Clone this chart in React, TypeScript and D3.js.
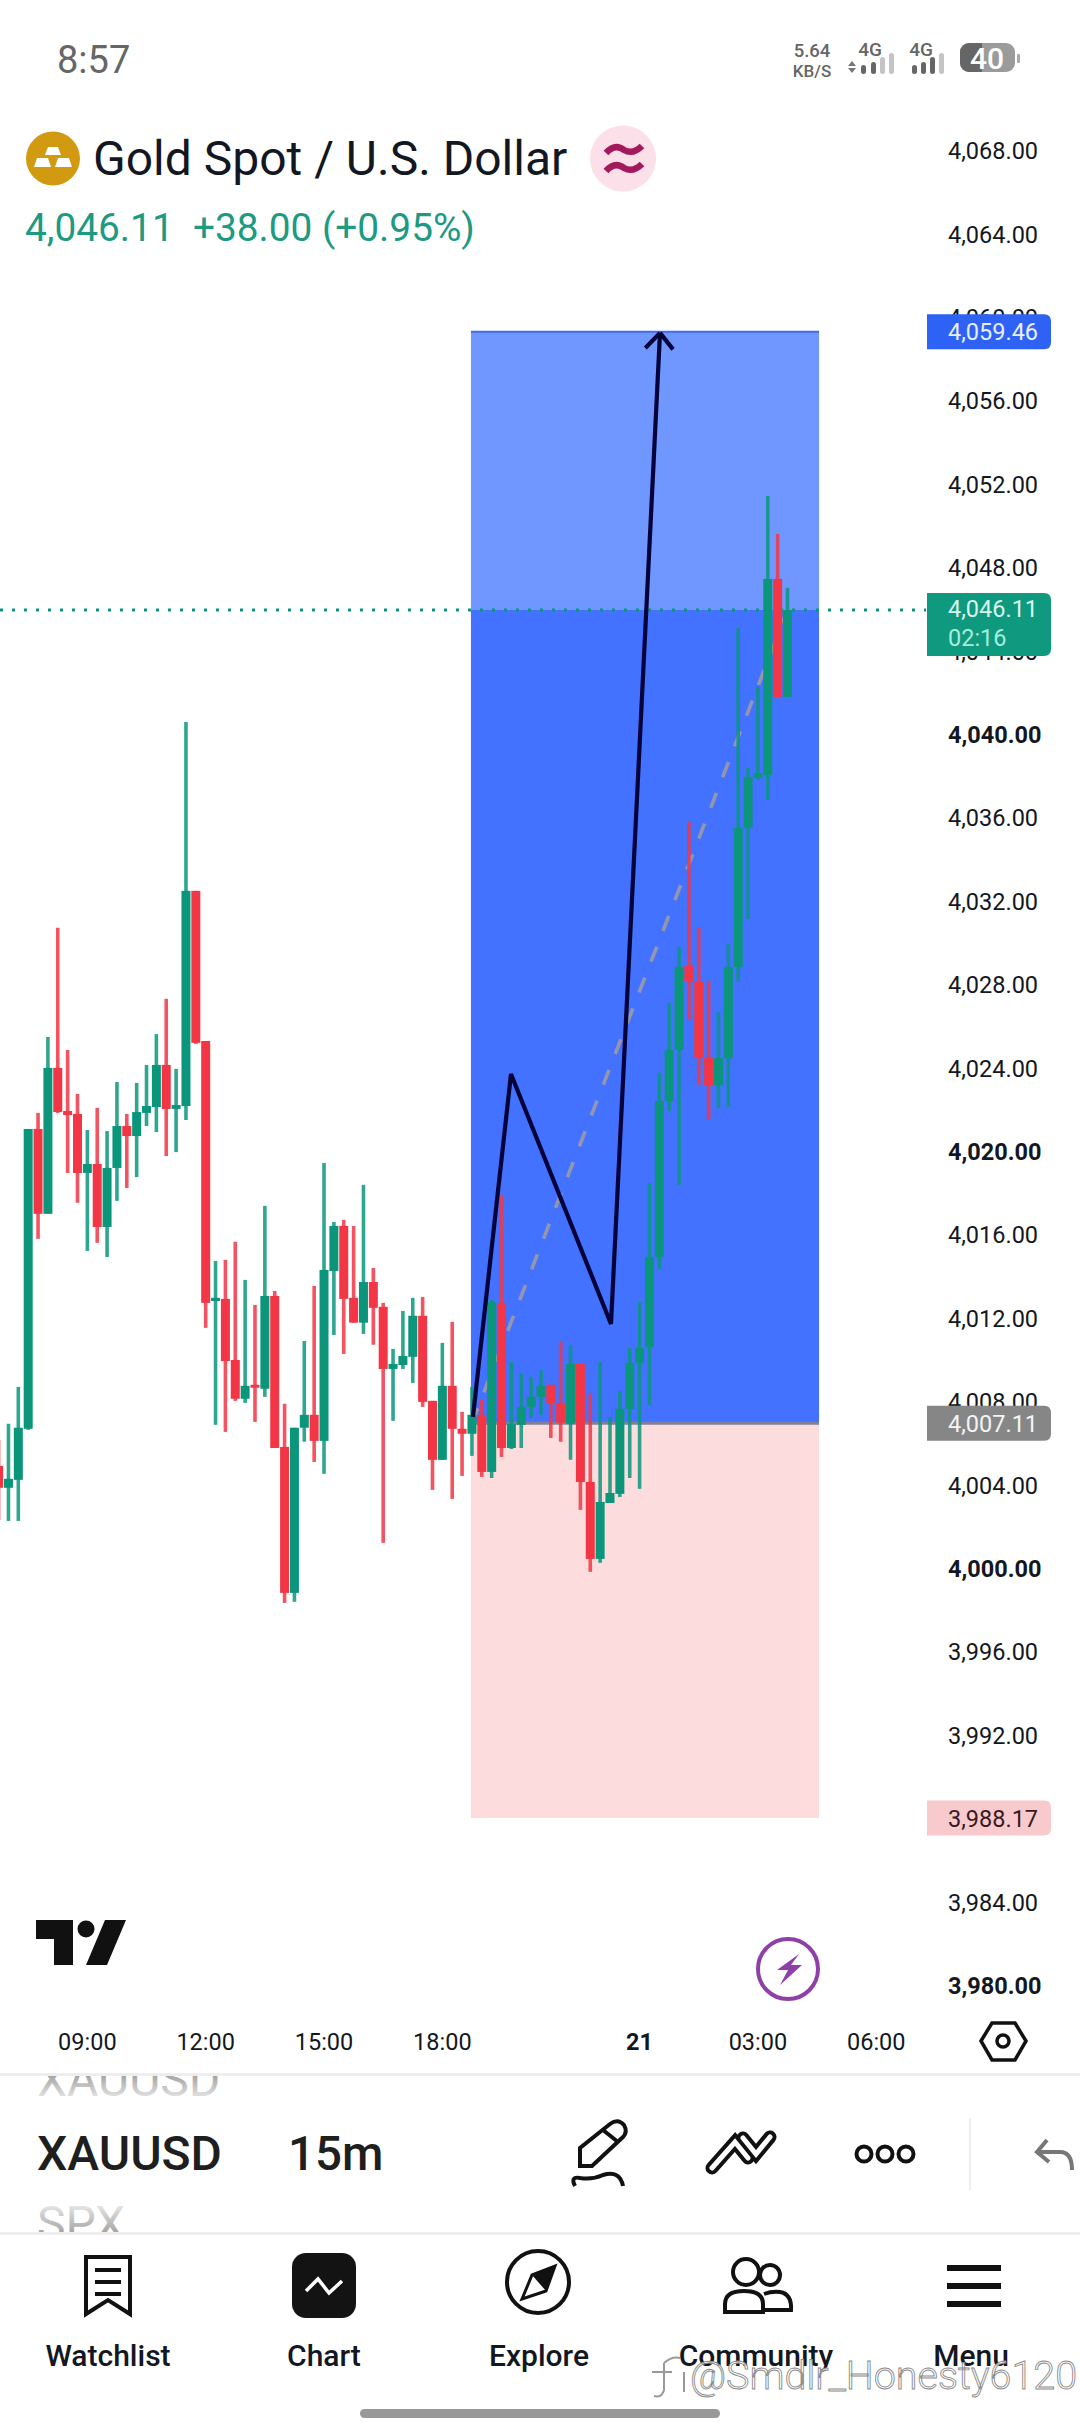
import React, { useEffect, useRef } from 'react';
import * as d3 from 'd3';

// 15m bars, left to right
const opens = [4005.06, 4004.01, 4004.39, 4006.84, 4021.22, 4017.15, 4024.15, 4022.08, 4021.94, 4019.11,
  4019.54, 4016.52, 4019.35, 4021.36, 4020.88, 4021.99, 4022.27, 4024.29, 4022.18, 4022.32,
  4032.64, 4025.44, 4012.97, 4013.07, 4010.14, 4008.28, 4008.95, 4008.76, 4013.21, 4005.97,
  3998.97, 4006.89, 4007.51, 4006.26, 4014.41, 4016.57, 4013.12, 4011.93, 4013.88, 4012.69,
  4009.71, 4009.90, 4010.29, 4012.26, 4008.18, 4005.35, 4008.90, 4006.84, 4006.60, 4007.51,
  4004.77, 4012.88, 4005.92, 4007.03, 4007.89, 4008.37, 4008.95, 4008.08, 4007.08, 4009.95,
  4004.29, 4000.60, 4003.28, 4003.72, 4007.80, 4010.00, 4010.77, 4015.08, 4022.56, 4025.01,
  4029.04, 4028.27, 4024.62, 4023.33, 4024.62, 4028.99, 4035.66, 4038.05, 4038.20, 4047.60, 4041.94];
const highs = [4006.31, 4007.08, 4008.85, 4021.22, 4021.99, 4025.63, 4030.87, 4025.01, 4022.90, 4021.17,
  4022.23, 4021.12, 4023.47, 4021.94, 4023.43, 4024.29, 4025.77, 4027.46, 4024.10, 4040.74,
  4032.64, 4025.44, 4014.89, 4014.94, 4015.81, 4013.98, 4012.78, 4017.53, 4013.45, 4008.04,
  4006.89, 4011.05, 4013.69, 4019.59, 4016.76, 4016.86, 4016.57, 4018.54, 4014.55, 4012.88,
  4010.67, 4012.49, 4013.12, 4013.16, 4008.18, 4010.96, 4011.97, 4007.65, 4008.85, 4008.23,
  4013.02, 4018.06, 4010.05, 4009.52, 4009.33, 4009.66, 4008.95, 4011.05, 4010.86, 4009.95,
  4008.56, 4010.05, 4007.41, 4008.66, 4010.72, 4012.92, 4018.63, 4023.91, 4027.27, 4029.95,
  4035.94, 4030.91, 4028.32, 4026.83, 4030.09, 4045.25, 4038.54, 4042.42, 4051.58, 4049.76, 4047.17];
const lows = [4002.47, 4002.42, 4002.42, 4006.79, 4015.95, 4017.15, 4021.99, 4019.11, 4017.68, 4015.37,
  4015.76, 4015.08, 4017.77, 4018.39, 4018.91, 4021.36, 4021.07, 4019.92, 4020.11, 4021.65,
  4025.30, 4011.68, 4007.03, 4006.69, 4008.18, 4008.08, 4007.17, 4008.37, 4005.92, 3998.49,
  3998.54, 4006.22, 4005.25, 4004.68, 4011.34, 4010.43, 4011.93, 4011.39, 4010.87, 4001.37,
  4007.22, 4009.71, 4009.04, 4007.89, 4003.91, 4005.35, 4003.48, 4004.58, 4005.54, 4004.53,
  4004.48, 4005.49, 4005.87, 4005.92, 4007.36, 4007.51, 4006.40, 4006.22, 4005.35, 4002.95,
  3999.98, 4000.41, 4003.28, 4003.57, 4004.48, 4003.96, 4007.99, 4014.50, 4022.08, 4018.54,
  4026.45, 4023.33, 4021.65, 4022.23, 4022.27, 4028.27, 4031.29, 4037.96, 4037.00, 4041.94, 4041.94];
const closes = [4004.01, 4004.44, 4006.89, 4021.22, 4017.15, 4024.15, 4022.03, 4021.89, 4019.11, 4019.54,
  4016.52, 4019.35, 4021.36, 4020.88, 4022.03, 4022.32, 4024.29, 4022.18, 4022.37, 4032.64,
  4025.35, 4012.88, 4013.12, 4010.09, 4008.28, 4008.90, 4008.81, 4013.21, 4005.92, 3998.97,
  4006.89, 4007.51, 4006.26, 4014.46, 4016.57, 4013.07, 4011.93, 4013.88, 4012.64, 4009.71,
  4009.95, 4010.33, 4012.26, 4008.13, 4005.35, 4008.90, 4006.84, 4006.60, 4007.51, 4004.77,
  4012.92, 4005.92, 4007.08, 4007.89, 4008.37, 4008.90, 4008.08, 4007.13, 4009.95, 4004.29,
  4000.60, 4003.33, 4003.76, 4007.80, 4010.00, 4010.72, 4015.08, 4022.56, 4025.01, 4028.99,
  4028.27, 4024.62, 4023.33, 4024.62, 4028.99, 4035.66, 4038.10, 4038.29, 4047.60, 4041.94, 4046.11];

const priceTicks = [4068, 4064, 4060, 4056, 4052, 4048, 4044, 4040, 4036, 4032, 4028, 4024, 4020, 4016, 4012,
  4008, 4004, 4000, 3996, 3992, 3988, 3984, 3980];
const boldTicks = [4040, 4020, 4000, 3980];
const timeBars = [9, 21, 33, 45, 65, 77, 89];
const timeLabels = ['09:00', '12:00', '15:00', '18:00', '21', '03:00', '06:00'];

const lastPrice = 4046.11;
const targetPrice = 4059.46;
const entryPrice = 4007.11;
const stopPrice = 3988.17;
const positionBars = [47.9, 83.2];
const progressBars = [48, 80];

// hand drawn path on top of the chart: bar index, price
const drawnBars = [48.1, 51.96, 62.1, 67.07];
const drawnPrices = [4007.41, 4023.86, 4011.87, 4059.4];

const navLabels = ['Watchlist', 'Chart', 'Explore', 'Community', 'Menu'];
const navCenters = [108, 324, 539, 756, 971];

const GREEN = '#0B967C';
const RED = '#F23645';
const FONT = 'Roboto, sans-serif';

const x = d3.scaleLinear().domain([0, 80]).range([-1.4, 787.5]);
const y = d3.scaleLinear().domain([4046.11, 3980]).range([610, 1988.4]);
const fmt = d3.format(',.2f');

export default function App() {
  const chartRef = useRef<SVGGElement>(null);
  const overlayRef = useRef<SVGGElement>(null);

  useEffect(() => {
    const chart = d3.select(chartRef.current);
    chart.selectAll('*').remove();

    const left = x(positionBars[0]);
    const width = x(positionBars[1]) - left;
    chart.append('rect').attr('x', left).attr('y', y(targetPrice)).attr('width', width)
      .attr('height', y(lastPrice) - y(targetPrice)).attr('fill', '#7096FF');
    chart.append('rect').attr('x', left).attr('y', y(lastPrice)).attr('width', width)
      .attr('height', y(entryPrice) - y(lastPrice)).attr('fill', '#4272FF');
    chart.append('rect').attr('x', left).attr('y', y(entryPrice)).attr('width', width)
      .attr('height', y(stopPrice) - y(entryPrice)).attr('fill', '#FCDCDD');
    chart.append('line').attr('x1', left).attr('x2', left + width).attr('y1', y(targetPrice)).attr('y2', y(targetPrice))
      .attr('stroke', '#3F6CF0').attr('stroke-width', 2);
    chart.append('line').attr('x1', left).attr('x2', left + width).attr('y1', y(entryPrice)).attr('y2', y(entryPrice))
      .attr('stroke', '#80809A').attr('stroke-width', 3);

    // progress line of the position tool
    chart.append('path')
      .attr('d', d3.line()([[x(progressBars[0]), y(entryPrice)], [x(progressBars[1]), y(lastPrice)]]))
      .attr('stroke', '#9496AE').attr('stroke-width', 3.6).attr('stroke-dasharray', '16 17').attr('fill', 'none');

    // last price line
    chart.append('line').attr('x1', 0).attr('x2', 926).attr('y1', y(lastPrice)).attr('y2', y(lastPrice))
      .attr('stroke', GREEN).attr('stroke-width', 3).attr('stroke-dasharray', '3 9');

    const bars = d3.range(opens.length);
    chart.selectAll('.wick').data(bars).join('rect').attr('class', 'wick')
      .attr('x', i => x(i) - 1.8).attr('width', 3.6)
      .attr('y', i => y(highs[i])).attr('height', i => y(lows[i]) - y(highs[i]))
      .attr('fill', i => closes[i] >= opens[i] ? GREEN : RED)
      .attr('opacity', 0.85);
    chart.selectAll('.body').data(bars).join('rect').attr('class', 'body')
      .attr('x', i => x(i) - 4.5).attr('width', 9)
      .attr('y', i => y(Math.max(opens[i], closes[i])))
      .attr('height', i => Math.max(2, Math.abs(y(opens[i]) - y(closes[i]))))
      .attr('fill', i => closes[i] >= opens[i] ? GREEN : RED);

    const overlay = d3.select(overlayRef.current);
    overlay.selectAll('*').remove();
    const pts = drawnBars.map((b, i) => [x(b), y(drawnPrices[i])] as [number, number]);
    overlay.append('path').attr('d', d3.line()(pts)).attr('fill', 'none')
      .attr('stroke', '#03033A').attr('stroke-width', 4.2).attr('stroke-linejoin', 'miter');
    const tip = pts[pts.length - 1];
    const prev = pts[pts.length - 2];
    const ang = Math.atan2(prev[1] - tip[1], prev[0] - tip[0]);
    [-0.72, 0.72].forEach(d => {
      overlay.append('line').attr('x1', tip[0]).attr('y1', tip[1])
        .attr('x2', tip[0] + 21 * Math.cos(ang + d)).attr('y2', tip[1] + 21 * Math.sin(ang + d))
        .attr('stroke', '#03033A').attr('stroke-width', 4.2);
    });

    // price axis
    const axis = d3.axisRight(y).tickValues(priceTicks).tickSize(0).tickPadding(0)
      .tickFormat(d => fmt(d as number));
    const axisG = overlay.append('g').attr('transform', 'translate(948,-2.5)').call(axis);
    axisG.select('.domain').remove();
    axisG.selectAll('text')
      .attr('font-family', FONT).attr('font-size', 23.5).attr('fill', '#131722')
      .attr('font-weight', d => boldTicks.includes(d as number) ? 700 : 400);

    // price tags
    const tag = (price: number, h: number, fill: string) => {
      const c = y(price);
      const r = 7;
      overlay.append('path')
        .attr('d', `M927 ${c - h / 2}H${1051 - r}Q1051 ${c - h / 2} 1051 ${c - h / 2 + r}V${c + h / 2 - r}Q1051 ${c + h / 2} ${1051 - r} ${c + h / 2}H927Z`)
        .attr('fill', fill);
    };
    const tagText = (txt: string, yy: number, fill: string) => {
      overlay.append('text').attr('x', 948).attr('y', yy).attr('font-family', FONT).attr('font-size', 23.5)
        .attr('fill', fill).text(txt);
    };
    tag(targetPrice, 35, '#2E62F5');
    tagText(fmt(targetPrice), y(targetPrice) + 8.5, '#E8EEFF');
    tag(lastPrice - 0.69, 63, '#0F9A7F');
    tagText(fmt(lastPrice), 617, '#D8F5EC');
    tagText('02:16', 645.5, '#A5EEDD');
    tag(entryPrice, 35, '#868686');
    tagText(fmt(entryPrice), y(entryPrice) + 8.5, '#F4F4F4');
    tag(stopPrice, 35, '#F8CACD');
    tagText(fmt(stopPrice), y(stopPrice) + 8.5, '#3A1A20');

    // time axis
    const timeG = overlay.append('g');
    timeG.selectAll('text').data(timeBars).join('text')
      .attr('x', d => x(d)).attr('y', 2050).attr('text-anchor', 'middle')
      .attr('font-family', FONT).attr('font-size', 23.5).attr('fill', '#131722')
      .attr('font-weight', (d, i) => timeLabels[i] === '21' ? 700 : 400)
      .text((d, i) => timeLabels[i]);
  }, []);

  return (
    <svg width={1080} height={2436} viewBox="0 0 1080 2436"
      style={{ position: 'absolute', left: 0, top: 0, background: '#fff' }} fontFamily={FONT}>
      <defs>
        <linearGradient id="fadeTop" gradientUnits="userSpaceOnUse" x1="0" y1="2076" x2="0" y2="2098">
          <stop offset="0" stopColor="#a6a6a6" />
          <stop offset="1" stopColor="#e4e4e4" />
        </linearGradient>
        <linearGradient id="fadeBottom" gradientUnits="userSpaceOnUse" x1="0" y1="2206" x2="0" y2="2232">
          <stop offset="0" stopColor="#e4e4e4" />
          <stop offset="1" stopColor="#a6a6a6" />
        </linearGradient>
        <clipPath id="symbolStrip"><rect x="0" y="2076" width="1080" height="156" /></clipPath>
      </defs>

      <g ref={chartRef} />

      {/* status bar */}
      <text x={57} y={73} fontSize={38} fill="#666">8:57</text>
      <g fill="#666" fontWeight={500} textAnchor="middle">
        <text x={812} y={57} fontSize={18.5}>5.64</text>
        <text x={812} y={77} fontSize={17}>KB/S</text>
        <text x={870} y={56} fontSize={19}>4G</text>
        <text x={921} y={56} fontSize={19}>4G</text>
      </g>
      <path d="M852 61l4 5h-8zM852 73l4-5h-8z" fill="#777" />
      <g fill="#666">
        <rect x={861} y={65} width={5} height={9} rx={2.5} />
        <rect x={871} y={62} width={5} height={12} rx={2.5} />
        <rect x={880} y={57} width={5} height={17} rx={2.5} fill="#c4c4c4" />
        <rect x={889} y={53} width={5} height={21} rx={2.5} fill="#c4c4c4" />
        <rect x={912} y={65} width={5} height={9} rx={2.5} />
        <rect x={921} y={62} width={5} height={12} rx={2.5} />
        <rect x={930} y={57} width={5} height={17} rx={2.5} />
        <rect x={939} y={53} width={5} height={21} rx={2.5} fill="#c4c4c4" />
      </g>
      <rect x={960} y={43} width={55} height={29} rx={9} fill="#9b9b9b" />
      <path d="M982 43H969a9 9 0 0 0-9 9V63a9 9 0 0 0 9 9H982Z" fill="#666" />
      <rect x={1017} y={54} width={3} height={9} rx={1} fill="#aaa" />
      <text x={987} y={69} fontSize={30} fontWeight={500} fill="#fff" textAnchor="middle">40</text>

      {/* header */}
      <circle cx={53} cy={158.5} r={27} fill="#D29A10" />
      <path d="M48 147h10l3 8H45zM37 158h11l3 9H34zM58 158h11l3 9H55z" fill="#fff" />
      <text x={93} y={175} fontSize={48} fill="#131722">Gold Spot / U.S. Dollar</text>
      <circle cx={623} cy={158.5} r={33} fill="#FBDFE9" />
      <path d="M606 153Q615 143 624 150Q633 155 642 146M606 171Q615 161 624 168Q633 173 642 164" fill="none" stroke="#A3195B" strokeWidth={6.5} />
      <text x={25} y={241} fontSize={38.8} fill="#1D9A82" xmlSpace="preserve">4,046.11  +38.00 (+0.95%)</text>

      <g ref={overlayRef} />

      {/* TradingView logo and lightning */}
      <path d="M36 1920H73V1965H54V1939H36ZM105 1920H126L107 1965H86Z" fill="#111" />
      <circle cx={86} cy={1929} r={8.5} fill="#111" />
      <circle cx={788} cy={1969} r={30} fill="#fff" stroke="#8E3FA8" strokeWidth={4} />
      <path d="M799 1954L777 1970H788L780 1985L802 1965H791Z" fill="#8E3FA8" />
      <path d="M981 2041L992 2023H1015L1026 2041L1015 2060H992Z" fill="none" stroke="#111" strokeWidth={3.5} />
      <circle cx={1003} cy={2041} r={6} fill="none" stroke="#111" strokeWidth={3.5} />

      {/* symbol strip */}
      <rect x={0} y={2073} width={1080} height={3} fill="#eee" />
      <rect x={0} y={2232} width={1080} height={3} fill="#eee" />
      <g clipPath="url(#symbolStrip)" fontSize={48}>
        <text x={37} y={2096} fill="url(#fadeTop)">XAUUSD</text>
        <text x={37} y={2240} fill="url(#fadeBottom)">SPX</text>
      </g>
      <text x={37} y={2170} fontSize={48} fontWeight={500} fill="#1f1f1f">XAUUSD</text>
      <text x={288} y={2170} fontSize={47.5} fontWeight={500} fill="#1f1f1f">15m</text>
      <g fill="none" stroke="#111" strokeWidth={4}>
        <path d="M580 2166V2148L610 2124Q618 2118 624 2125Q628 2132 623 2137L592 2166Z" />
        <path d="M603 2130L618 2142" />
        <path d="M575 2186Q570 2176 580 2178Q592 2180 603 2175Q620 2170 623 2186" />
        <g strokeLinecap="round">
          <path d="M712 2168L735 2142L748 2158M743 2138L756 2154L770 2137" strokeWidth={13} />
          <path d="M712 2168L735 2142L748 2158M743 2138L756 2154L770 2137" strokeWidth={5} stroke="#fff" />
        </g>
        <circle cx={864} cy={2154} r={7.5} />
        <circle cx={885} cy={2154} r={7.5} />
        <circle cx={906} cy={2154} r={7.5} />
        <path d="M1047 2140L1037 2152L1049 2162M1037 2152H1060Q1072 2152 1072 2170" stroke="#777" />
      </g>
      <rect x={969} y={2118} width={2} height={72} fill="#eee" />

      {/* nav bar */}
      <g fill="none" stroke="#111" strokeWidth={4}>
        <path d="M86 2257H130V2314L108 2300L86 2314Z" />
        <path d="M95 2270H121M95 2282H121M95 2294H121" />
        <circle cx={538} cy={2282} r={31} />
        <path d="M555 2266L546 2291L522 2299L532 2275Z" strokeWidth={3} />
        <circle cx={746} cy={2272} r={13} />
        <circle cx={770} cy={2275} r={10} />
        <path d="M725 2312V2304Q725 2291 744 2291Q763 2291 763 2304V2312Z" />
        <path d="M764 2294Q772 2291 780 2292Q792 2294 791 2310H764" />
      </g>
      <path d="M555 2266L546 2291L532 2275Z" fill="#111" />
      <rect x={292} y={2253} width={64} height={65} rx={14} fill="#131313" />
      <path d="M306 2291L318 2279L329 2293L342 2281" fill="none" stroke="#fff" strokeWidth={3.5} />
      <rect x={947} y={2265} width={54} height={6} fill="#111" />
      <rect x={947} y={2283} width={54} height={6} fill="#111" />
      <rect x={947} y={2301} width={54} height={6} fill="#111" />
      {navLabels.map((label, i) => (
        <text key={label} x={navCenters[i]} y={2366} fontSize={30} fontWeight={500} fill="#131722" textAnchor="middle">{label}</text>
      ))}

      {/* watermark */}
      <path d="M664 2363Q672 2356 680 2358M664 2363V2390Q662 2398 654 2396M672 2372H652M684 2372V2392" fill="none" stroke="#999" strokeWidth={2} />
      <text x={690} y={2389} fontSize={39.5} fontWeight={300} fill="#fff" fillOpacity={0.75} stroke="#8a8a8a" strokeWidth={0.9}>@Smdlr_Honesty6120</text>

      <rect x={360} y={2409} width={360} height={9} rx={4.5} fill="#999" />
    </svg>
  );
}
